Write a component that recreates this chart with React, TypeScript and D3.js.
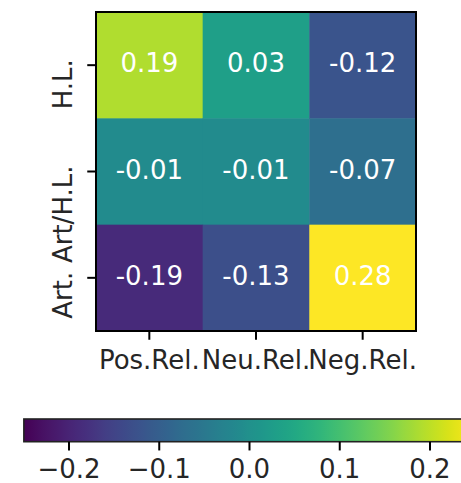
import { useEffect, useRef } from "react";
import * as d3 from "d3";

// Heatmap data (rows x columns)
const rowLabels = ["H.L.", "Art/H.L.", "Art."];
const colLabels = ["Pos.Rel.", "Neu.Rel.", "Neg.Rel."];
const rowValues = [
  [0.19, 0.03, -0.12],
  [-0.01, -0.01, -0.07],
  [-0.19, -0.13, 0.28],
];
const colorDomain = [-0.25, 0.25];
const colorbarTicks = [-0.2, -0.1, 0.0, 0.1, 0.2];

const WIDTH = 461;
const HEIGHT = 483;
const FONT = "'DejaVu Sans', sans-serif";
const FS = "26px";

export default function App() {
  const ref = useRef<SVGSVGElement | null>(null);

  useEffect(() => {
    if (!ref.current) return;
    const svg = d3.select(ref.current);
    svg.selectAll("*").remove();

    const plot = { left: 96, right: 416, top: 12, bottom: 331 };
    const tickLen = 8.75;

    const x = d3.scaleBand<string>().domain(colLabels).range([plot.left, plot.right]);
    const y = d3.scaleBand<string>().domain(rowLabels).range([plot.top, plot.bottom]);
    // values outside the norm are clipped, like matplotlib
    const color = d3.scaleSequential(d3.interpolateViridis).domain(colorDomain).clamp(true);

    const cells = rowValues.flatMap((row, i) =>
      row.map((v, j) => ({ row: rowLabels[i], col: colLabels[j], v }))
    );

    // cells
    svg.append("g")
      .selectAll("rect")
      .data(cells)
      .join("rect")
      .attr("x", (d) => x(d.col)!)
      .attr("y", (d) => y(d.row)!)
      .attr("width", x.bandwidth() + 0.5)
      .attr("height", y.bandwidth() + 0.5)
      .attr("fill", (d) => color(d.v));

    // cell text
    svg.append("g")
      .selectAll("text")
      .data(cells)
      .join("text")
      .attr("x", (d) => x(d.col)! + x.bandwidth() / 2)
      .attr("y", (d) => y(d.row)! + y.bandwidth() / 2 + 7)
      .attr("text-anchor", "middle")
      .style("font-family", FONT)
      .style("font-size", FS)
      .style("fill", "#ffffff")
      .text((d) => d.v.toFixed(2));

    // frame
    svg.append("rect")
      .attr("x", plot.left)
      .attr("y", plot.top)
      .attr("width", plot.right - plot.left)
      .attr("height", plot.bottom - plot.top)
      .attr("fill", "none")
      .attr("stroke", "#000")
      .attr("stroke-width", 2);

    // x ticks + labels
    const xt = svg.append("g");
    colLabels.forEach((c) => {
      const cx = x(c)! + x.bandwidth() / 2;
      xt.append("line")
        .attr("x1", cx).attr("x2", cx)
        .attr("y1", plot.bottom).attr("y2", plot.bottom + tickLen)
        .attr("stroke", "#000").attr("stroke-width", 2);
      xt.append("text")
        .attr("x", cx)
        .attr("y", 369)
        .attr("text-anchor", "middle")
        .style("font-family", FONT)
        .style("font-size", FS)
        .style("fill", "#262626")
        .text(c);
    });

    // y ticks + rotated labels (anchored at text end)
    const yt = svg.append("g");
    rowLabels.forEach((r) => {
      const cy = y(r)! + y.bandwidth() / 2;
      yt.append("line")
        .attr("x1", plot.left - tickLen).attr("x2", plot.left)
        .attr("y1", cy).attr("y2", cy)
        .attr("stroke", "#000").attr("stroke-width", 2);
      yt.append("text")
        .attr("transform", `translate(72, ${cy - 6}) rotate(-90)`)
        .attr("text-anchor", "end")
        .style("font-family", FONT)
        .style("font-size", FS)
        .style("fill", "#262626")
        .text(r);
    });

    // colorbar (runs past the right edge, as in the reference)
    const cb = { top: 419, bottom: 441.7 };
    const cbScale = d3.scaleLinear().domain([-0.2, 0.2]).range([69, 430]);
    const cbLeft = cbScale(colorDomain[0]);
    const cbRight = cbScale(colorDomain[1]);

    const grad = svg.append("defs")
      .append("linearGradient")
      .attr("id", "viridis-grad")
      .attr("x1", "0%").attr("x2", "100%")
      .attr("y1", "0%").attr("y2", "0%");
    d3.range(0, 1.0001, 0.02).forEach((t) => {
      grad.append("stop")
        .attr("offset", `${t * 100}%`)
        .attr("stop-color", d3.interpolateViridis(t));
    });

    svg.append("rect")
      .attr("x", cbLeft)
      .attr("y", cb.top)
      .attr("width", cbRight - cbLeft)
      .attr("height", cb.bottom - cb.top)
      .attr("fill", "url(#viridis-grad)")
      .attr("stroke", "#222")
      .attr("stroke-width", 1.6);

    const ct = svg.append("g");
    colorbarTicks.forEach((t) => {
      const tx = cbScale(t);
      ct.append("line")
        .attr("x1", tx).attr("x2", tx)
        .attr("y1", cb.bottom).attr("y2", cb.bottom + tickLen)
        .attr("stroke", "#000").attr("stroke-width", 2);
      ct.append("text")
        .attr("x", tx)
        .attr("y", 478)
        .attr("text-anchor", "middle")
        .style("font-family", FONT)
        .style("font-size", FS)
        .style("fill", "#262626")
        .text(t.toFixed(1).replace("-", "\u2212"));
    });
  }, []);

  return (
    <svg
      ref={ref}
      width={WIDTH}
      height={HEIGHT}
      style={{ position: "absolute", left: 0, top: 0, background: "#fff" }}
    />
  );
}
